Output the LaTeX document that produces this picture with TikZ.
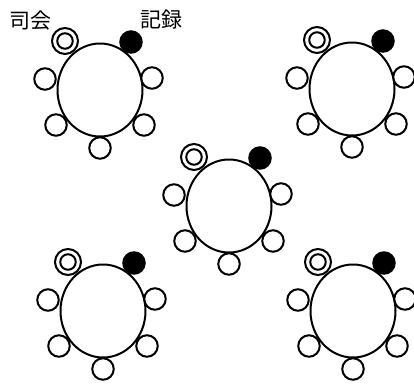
\documentclass[tikz,border=0pt]{standalone}
\usepackage{fontspec}
\usetikzlibrary{shapes.geometric}
\newfontfamily\jpfont{Noto Sans CJK JP}
\begin{document}
\begin{tikzpicture}[x=1pt,y=-1pt,
  lw/.style={line width=2pt},
  tbl/.style={draw,lw,ellipse,minimum width=85pt,minimum height=93pt,inner sep=0pt,fill=white},
  seat/.style={draw,lw,circle,minimum size=21.5pt,inner sep=0pt,fill=white},
  chair/.style={draw,lw,circle,minimum size=26pt,inner sep=0pt,fill=white},
  chairin/.style={draw,lw,circle,minimum size=15.5pt,inner sep=0pt},
  rec/.style={draw,lw,circle,minimum size=21.5pt,inner sep=0pt,fill=black},
  lbl/.style={font=\jpfont\fontsize{21}{21}\selectfont,inner sep=0pt},
  table/.pic={
    \node[tbl] (-t) at (0,0) {};
    \node[chair] (-c) at (-35,-49) {};
    \node[chairin] (-ci) at (-35,-49) {};
    \node[rec] (-r) at (31,-48) {};
    \node[seat] (-l) at (-55,-11) {};
    \node[seat] (-e) at (52,-12) {};
    \node[seat] (-bl) at (-44,35) {};
    \node[seat] (-br) at (44,35) {};
    \node[seat] (-b) at (0,58) {};
  }]
\useasboundingbox (0,0) rectangle (414,383);
\pic (tl) at (100,90) {table};
\pic (tr) at (352,89) {table};
\pic (m) at (229,206) {table};
\pic (bl) at (103,311) {table};
\pic (br) at (353,311) {table};
\node[lbl] (l1) at (30.5,21) {司会};
\node[lbl] (l2) at (161,20) {記録};
\end{tikzpicture}
\end{document}
